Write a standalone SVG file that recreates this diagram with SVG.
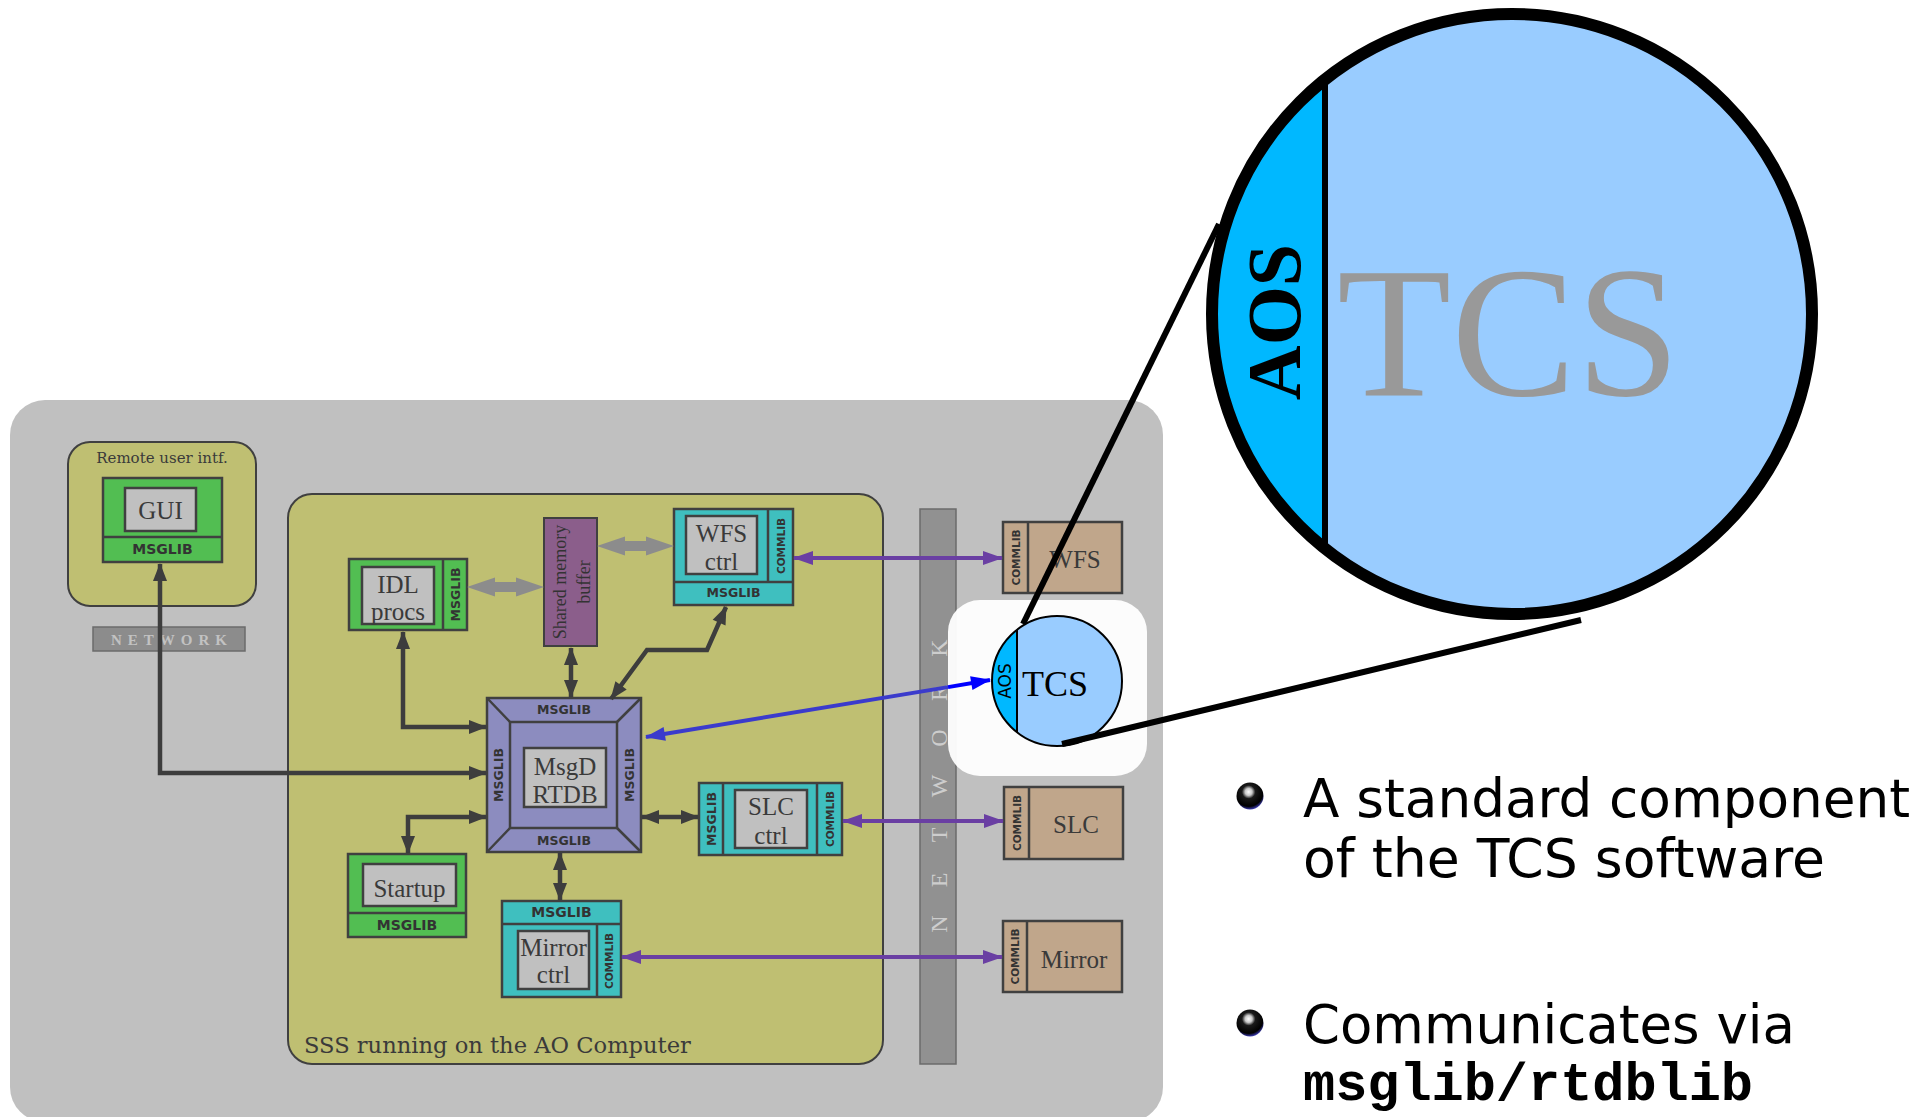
<svg xmlns="http://www.w3.org/2000/svg" width="1932" height="1117" viewBox="0 0 1932 1117">
<defs>
<style>
.ol{fill:#bfbf72;stroke:#404040;stroke-width:2}
.gr{fill:#52be52;stroke:#404040;stroke-width:2.5}
.cy{fill:#3fbfbf;stroke:#404040;stroke-width:2.5}
.tn{fill:#c0a68b;stroke:#404040;stroke-width:2.5}
.ig{fill:#c0c0c0;stroke:#404040;stroke-width:2.5}
.ms{fill:#8c8cbf;stroke:#404040;stroke-width:2.5}
.sep{stroke:#404040;stroke-width:2.5;fill:none}
.lbl{font-family:"Liberation Serif",serif;font-size:25px;fill:#3a3a3a;text-anchor:middle}
.lib{font-family:"DejaVu Sans",sans-serif;font-weight:bold;font-size:12.5px;fill:#333;text-anchor:middle}
.big{font-size:14px}
.cl{font-family:"DejaVu Sans",sans-serif;font-weight:bold;font-size:10.5px;fill:#333;text-anchor:middle;dominant-baseline:central}
.v{dominant-baseline:central}
.dk{fill:none;stroke:#3d3d3d;stroke-width:4.5;marker-start:url(#ad);marker-end:url(#ad)}
.pu{fill:none;stroke:#6a3fa3;stroke-width:4;marker-start:url(#ap);marker-end:url(#ap)}
.fat{fill:#8c8c8c}
.net{font-family:"Liberation Serif",serif;font-size:24px;fill:#cdcdcd;text-anchor:middle;dominant-baseline:central}
.ser{font-family:"DejaVu Serif",serif;fill:#3a3a3a}
.bul{font-family:"DejaVu Sans",sans-serif;font-size:54px;fill:#000}
</style>
<marker id="ad" markerUnits="userSpaceOnUse" markerWidth="18" markerHeight="14" refX="17" refY="7" orient="auto-start-reverse" overflow="visible"><path d="M0,0 L18,7 L0,14 z" fill="#3d3d3d"/></marker>
<marker id="ap" markerUnits="userSpaceOnUse" markerWidth="20" markerHeight="14" refX="19" refY="7" orient="auto-start-reverse" overflow="visible"><path d="M0,0 L20,7 L0,14 z" fill="#6a3fa3"/></marker>
<marker id="ab" markerUnits="userSpaceOnUse" markerWidth="20" markerHeight="14" refX="19" refY="7" orient="auto-start-reverse" overflow="visible"><path d="M0,0 L20,7 L0,14 z" fill="#3b3bcc"/></marker>
<marker id="abb" markerUnits="userSpaceOnUse" markerWidth="20" markerHeight="14" refX="19" refY="7" orient="auto" overflow="visible"><path d="M0,0 L20,7 L0,14 z" fill="#0000ff"/></marker>
<clipPath id="cs"><circle cx="1057" cy="681" r="65"/></clipPath>
<clipPath id="cb"><circle cx="1512" cy="314" r="300"/></clipPath>
<radialGradient id="bg" cx="0.45" cy="0.35" r="0.65">
<stop offset="0" stop-color="#ffffff"/>
<stop offset="0.2" stop-color="#c8c8c8"/>
<stop offset="0.38" stop-color="#1a1a1a"/>
<stop offset="0.82" stop-color="#000000"/>
<stop offset="1" stop-color="#3a3ab0"/>
</radialGradient>
</defs>

<rect x="10" y="400" width="1153" height="722" rx="35" fill="#c0c0c0"/>

<g id="remote">
<rect class="ol" x="68" y="442" width="188" height="164" rx="22"/>
<text class="ser" x="162" y="463" font-size="15" text-anchor="middle">Remote user intf.</text>
</g>
<g id="gui">
<rect class="gr" x="103" y="478" width="119" height="84"/>
<line class="sep" x1="103" y1="537" x2="222" y2="537"/>
<rect class="ig" x="125" y="488" width="71" height="43"/>
<text class="lbl" x="160.5" y="519" font-size="24">GUI</text>
<text class="lib big" x="162.5" y="554">MSGLIB</text>
</g>
<g id="network-left">
<rect x="93" y="627" width="152" height="24" fill="#8c8c8c" stroke="#6b6b6b" stroke-width="1.5"/>
<text x="172" y="645" font-family="'Liberation Serif',serif" font-weight="bold" font-size="15" fill="#c2c2c2" text-anchor="middle" letter-spacing="6">NETWORK</text>
</g>

<g id="sss">
<rect class="ol" x="288" y="494" width="595" height="570" rx="24"/>
<text class="ser" x="304" y="1053" font-size="22.6">SSS running on the AO Computer</text>
</g>

<g id="idl">
<rect class="gr" x="349" y="559" width="118" height="71"/>
<line class="sep" x1="443" y1="559" x2="443" y2="630"/>
<rect class="ig" x="362" y="567" width="72" height="57"/>
<text class="lbl" x="398" y="593">IDL</text>
<text class="lbl" x="398" y="620">procs</text>
<text class="lib v" transform="translate(455,594.5) rotate(-90)">MSGLIB</text>
</g>

<g id="shm">
<rect x="544" y="518" width="53" height="128" fill="#8b5e8b" stroke="#404040" stroke-width="2"/>
<text transform="translate(566,582) rotate(-90)" font-family="'Liberation Serif',serif" font-size="18" fill="#333" text-anchor="middle">Shared memory</text>
<text transform="translate(590,582) rotate(-90)" font-family="'Liberation Serif',serif" font-size="18" fill="#333" text-anchor="middle">buffer</text>
</g>

<g id="wfsctrl">
<rect class="cy" x="674" y="509" width="119" height="96"/>
<line class="sep" x1="674" y1="582" x2="793" y2="582"/>
<line class="sep" x1="768" y1="509" x2="768" y2="582"/>
<rect class="ig" x="686" y="516" width="71" height="58"/>
<text class="lbl" x="721.5" y="542">WFS</text>
<text class="lbl" x="721.5" y="570">ctrl</text>
<text class="lib" x="733.5" y="597">MSGLIB</text>
<text class="cl" transform="translate(780.5,546) rotate(-90)">COMMLIB</text>
</g>

<g id="msgd">
<rect class="ms" x="487" y="698" width="154" height="154"/>
<rect class="ms" x="510" y="722" width="107" height="106"/>
<path class="sep" d="M487,698 L510,722 M641,698 L617,722 M487,852 L510,828 M641,852 L617,828"/>
<rect class="ig" x="524" y="748" width="82" height="59"/>
<text class="lbl" x="565" y="775">MsgD</text>
<text class="lbl" x="565" y="803">RTDB</text>
<text class="lib" x="564" y="714">MSGLIB</text>
<text class="lib" x="564" y="845">MSGLIB</text>
<text class="lib v" transform="translate(498.5,775) rotate(-90)">MSGLIB</text>
<text class="lib v" transform="translate(629,775) rotate(-90)">MSGLIB</text>
</g>

<g id="slcctrl">
<rect class="cy" x="699" y="783" width="143" height="72"/>
<line class="sep" x1="723" y1="783" x2="723" y2="855"/>
<line class="sep" x1="817" y1="783" x2="817" y2="855"/>
<rect class="ig" x="735" y="790" width="72" height="58"/>
<text class="lbl" x="771" y="815">SLC</text>
<text class="lbl" x="771" y="844">ctrl</text>
<text class="lib v" transform="translate(711,819) rotate(-90)">MSGLIB</text>
<text class="cl" transform="translate(829.5,819) rotate(-90)">COMMLIB</text>
</g>

<g id="startup">
<rect class="gr" x="348" y="854" width="118" height="83"/>
<line class="sep" x1="348" y1="913" x2="466" y2="913"/>
<rect class="ig" x="363" y="864" width="93" height="42"/>
<text class="lbl" x="409.5" y="897">Startup</text>
<text class="lib big" x="407" y="930">MSGLIB</text>
</g>

<g id="mirrorctrl">
<rect class="cy" x="502" y="901" width="119" height="96"/>
<line class="sep" x1="502" y1="924" x2="621" y2="924"/>
<line class="sep" x1="597" y1="924" x2="597" y2="997"/>
<rect class="ig" x="518" y="931" width="71" height="58"/>
<text class="lbl" x="553.5" y="956">Mirror</text>
<text class="lbl" x="553.5" y="983">ctrl</text>
<text class="lib big" x="561.5" y="917">MSGLIB</text>
<text class="cl" transform="translate(609,961) rotate(-90)">COMMLIB</text>
</g>

<g id="network">
<rect x="920" y="509" width="36" height="555" fill="#919191" stroke="#6b6b6b" stroke-width="1.5"/>
<text class="net" transform="translate(939,924) rotate(-90)">N</text>
<text class="net" transform="translate(939,880) rotate(-90)">E</text>
<text class="net" transform="translate(939,835) rotate(-90)">T</text>
<text class="net" transform="translate(939,786) rotate(-90)">W</text>
<text class="net" transform="translate(939,738) rotate(-90)">O</text>
<text class="net" transform="translate(939,693) rotate(-90)">R</text>
<text class="net" transform="translate(939,648) rotate(-90)">K</text>
</g>

<g id="wfs">
<rect class="tn" x="1003" y="522" width="119" height="71"/>
<line class="sep" x1="1028" y1="522" x2="1028" y2="593"/>
<text class="lbl" x="1075" y="568" font-size="24">WFS</text>
<text class="cl" transform="translate(1015.5,557.5) rotate(-90)">COMMLIB</text>
</g>
<g id="slc">
<rect class="tn" x="1004" y="787" width="119" height="72"/>
<line class="sep" x1="1029" y1="787" x2="1029" y2="859"/>
<text class="lbl" x="1076" y="833" font-size="24">SLC</text>
<text class="cl" transform="translate(1016.5,823) rotate(-90)">COMMLIB</text>
</g>
<g id="mirror">
<rect class="tn" x="1003" y="921" width="119" height="71"/>
<line class="sep" x1="1027" y1="921" x2="1027" y2="992"/>
<text class="lbl" x="1074" y="968" font-size="24">Mirror</text>
<text class="cl" transform="translate(1015,956.5) rotate(-90)">COMMLIB</text>
</g>

<g id="connectors">
<path class="dk" d="M160,564 V773 H486"/>
<path class="dk" d="M403,632 V727 H486"/>
<path class="dk" d="M408,853 V817 H486"/>
<path class="dk" d="M571,648 V697"/>
<path class="dk" d="M726,607 L707,650 H647 L611,699"/>
<path class="dk" d="M642,817 H698"/>
<path class="dk" d="M560,853 V900"/>
<path class="pu" d="M794,558 H1002"/>
<path class="pu" d="M843,821 H1003"/>
<path class="pu" d="M622,957 H1002"/>
<polygon class="fat" points="467,587 495,577.5 495,582 516,582 516,577.5 544,587 516,596.5 516,592 495,592 495,596.5"/>
<polygon class="fat" points="597,546 625,536.5 625,541 646,541 646,536.5 674,546 646,555.5 646,551 625,551 625,555.5"/>
<path d="M646,737 L948,687.1" fill="none" stroke="#3b3bcc" stroke-width="4" marker-start="url(#ab)"/>
</g>

<rect id="highlight" x="948" y="600" width="199" height="176" rx="32" fill="#ffffff" fill-opacity="0.95"/>

<g id="tcs-small">
<circle cx="1057" cy="681" r="65" fill="#99ccff"/>
<rect x="990" y="614" width="27" height="134" fill="#00b8ff" clip-path="url(#cs)"/>
<line x1="1017" y1="630" x2="1017" y2="732" stroke="#000" stroke-width="2"/>
<circle cx="1057" cy="681" r="65" fill="none" stroke="#000" stroke-width="2"/>
<text x="1022" y="696" font-family="'Liberation Serif',serif" font-size="36" fill="#000">TCS</text>
<text transform="translate(1005,681) rotate(-90)" font-family="'DejaVu Sans',sans-serif" font-size="17" fill="#000" text-anchor="middle" dominant-baseline="central">AOS</text>
</g>
<path d="M948,687.1 L990,680" fill="none" stroke="#0000ff" stroke-width="4" marker-end="url(#abb)"/>

<g id="zoom-lines">
<line x1="1023" y1="624" x2="1219" y2="224" stroke="#000" stroke-width="6"/>
<line x1="1062" y1="744" x2="1581" y2="620" stroke="#000" stroke-width="6"/>
</g>

<g id="tcs-big">
<circle cx="1512" cy="314" r="300" fill="#99ccff"/>
<rect x="1200" y="0" width="125" height="640" fill="#00b8ff" clip-path="url(#cb)"/>
<line x1="1325" y1="80" x2="1325" y2="548" stroke="#000" stroke-width="6"/>
<circle cx="1512" cy="314" r="300" fill="none" stroke="#000" stroke-width="12"/>
<text transform="translate(1274,322) rotate(-90)" font-family="'Liberation Serif',serif" font-weight="bold" font-size="76" fill="#000" text-anchor="middle" dominant-baseline="central">AOS</text>
<text x="1337" y="395" font-family="'Liberation Serif',serif" font-size="187" fill="#999999">TCS</text>
</g>

<g id="bullets">
<circle cx="1250" cy="796" r="13.5" fill="url(#bg)"/>
<circle cx="1250" cy="1023" r="13.5" fill="url(#bg)"/>
<text class="bul" x="1303" y="817" textLength="607" lengthAdjust="spacingAndGlyphs">A standard component</text>
<text class="bul" x="1303" y="877" textLength="522" lengthAdjust="spacingAndGlyphs">of the TCS software</text>
<text class="bul" x="1303" y="1043" textLength="492" lengthAdjust="spacingAndGlyphs">Communicates via</text>
<text x="1303" y="1100" font-family="'Liberation Mono',monospace" font-weight="bold" font-size="54" fill="#000" textLength="450" lengthAdjust="spacingAndGlyphs">msglib/rtdblib</text>
</g>
</svg>
